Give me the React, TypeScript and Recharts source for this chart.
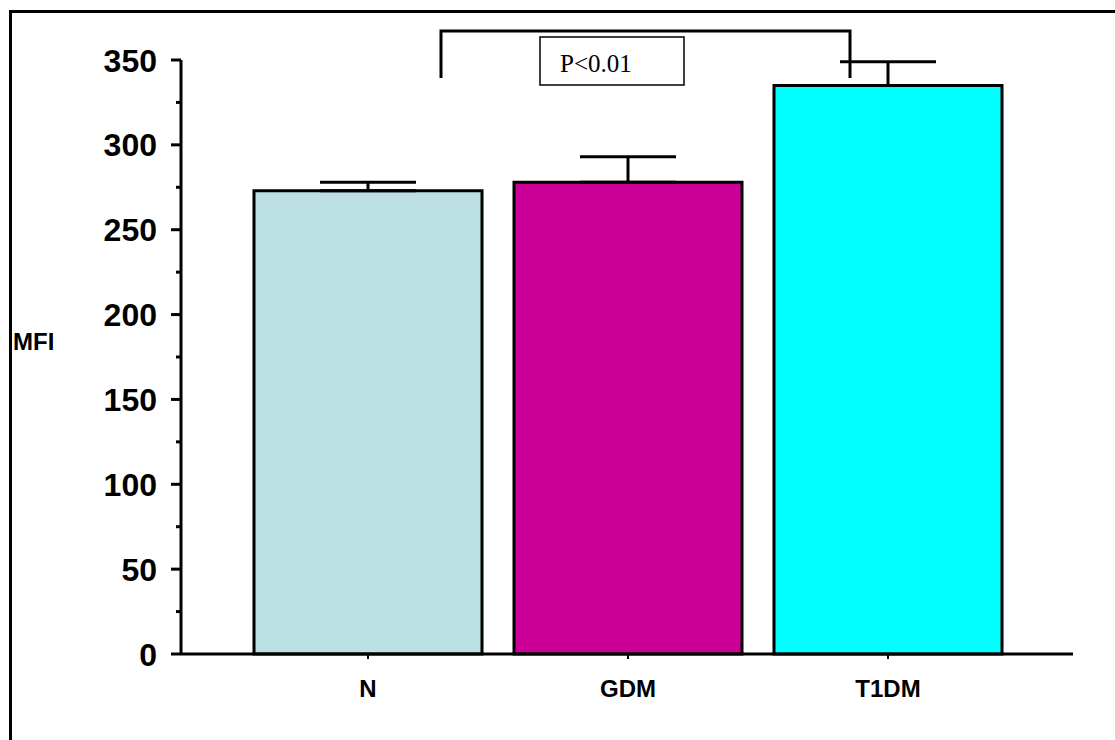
import React from "react";
import { BarChart, Bar, XAxis, YAxis, ErrorBar, Cell } from "recharts";

const groups = ["N", "GDM", "T1DM"];
const mfi = [273, 278, 335];
const sem = [5, 15, 14];
const barColors = ["#BCE0E3", "#CC0099", "#00FFFF"];
const yTicks = [0, 25, 50, 75, 100, 125, 150, 175, 200, 225, 250, 275, 300, 325, 350];
const pLabel = "P<0.01";

const data = groups.map((g, i) => ({ group: g, mfi: mfi[i], err: [0, sem[i]] }));

const sans = "'Liberation Sans', Arial, sans-serif";

const YTick = (props: any) => {
  const { x, y, payload } = props;
  const major = payload.value % 50 === 0;
  return (
    <g>
      <line x1={x + (major ? 14 : 19)} x2={x + 24} y1={y} y2={y} stroke="#000" strokeWidth={3} />
      {major && (
        <text x={x} y={y} dy="0.36em" textAnchor="end" fontFamily={sans} fontWeight="bold" fontSize={32} fill="#000">
          {payload.value}
        </text>
      )}
    </g>
  );
};

const App = () => (
  <div style={{ position: "absolute", left: 0, top: 0, width: 1115, height: 740, background: "#fff", overflow: "hidden" }}>
    <div style={{ position: "absolute", left: 9, top: 10, right: -10, bottom: -10, borderLeft: "3px solid #000", borderTop: "3px solid #000" }} />
    <BarChart
      width={1115}
      height={740}
      data={data}
      margin={{ top: 60, right: 42, bottom: 26, left: 0 }}
      barCategoryGap={16}
    >
      <XAxis
        dataKey="group"
        padding={{ left: 57, right: 55 }}
        axisLine={{ stroke: "#000", strokeWidth: 3 }}
        tickLine={{ stroke: "#000", strokeWidth: 2 }}
        tickSize={5}
        tickMargin={21}
        height={60}
        tick={{ fontFamily: sans, fontWeight: "bold", fontSize: 24, fill: "#000" }}
      />
      <YAxis
        width={181}
        domain={[0, 350]}
        ticks={yTicks}
        interval={0}
        tickLine={false}
        tickSize={10}
        tickMargin={14}
        axisLine={{ stroke: "#000", strokeWidth: 3 }}
        tick={<YTick />}
        label={{
          value: "MFI",
          position: "insideLeft",
          offset: 13,
          dy: -16,
          style: { fontFamily: sans, fontWeight: "bold", fontSize: 24, fill: "#000", textAnchor: "start" },
        }}
      />
      <Bar dataKey="mfi" stroke="#000" strokeWidth={3} isAnimationActive={false}>
        {data.map((d, i) => (
          <Cell key={d.group} fill={barColors[i]} />
        ))}
        <ErrorBar dataKey="err" width={48} stroke="#000" strokeWidth={3} isAnimationActive={false} />
      </Bar>
    </BarChart>
    {/* significance bracket between N and T1DM */}
    <svg style={{ position: "absolute", left: 0, top: 0 }} width={1115} height={740} pointerEvents="none">
      <polyline points="441,78 441,31 850,31 850,78" fill="none" stroke="#000" strokeWidth={3} />
      <rect x={540} y={37} width={144} height={48} fill="#fff" stroke="#000" strokeWidth={1.5} />
      <text x={560} y={72} fontFamily="'Liberation Serif', 'Times New Roman', serif" fontSize={25} fill="#000">
        {pLabel}
      </text>
    </svg>
  </div>
);

export default App;
